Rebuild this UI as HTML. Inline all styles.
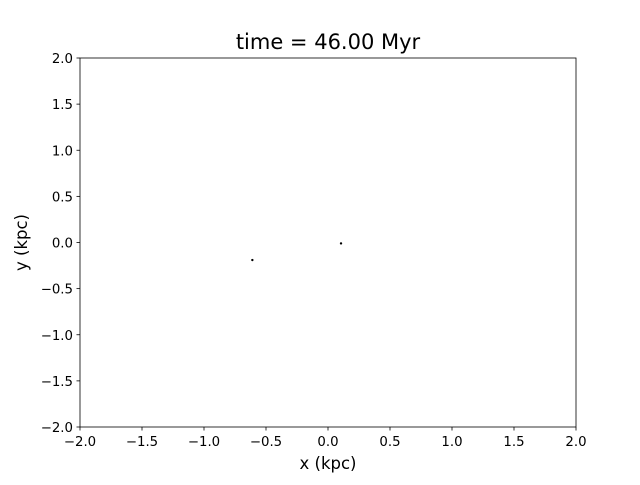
<!DOCTYPE html>
<html><head><meta charset="utf-8"><style>
body{margin:0;background:#fff;}
svg text{font-family:"DejaVu Sans","Liberation Sans",sans-serif;}
</style></head><body>
<svg width="640" height="480" viewBox="0 0 640 480" xmlns="http://www.w3.org/2000/svg">
<rect x="0" y="0" width="640" height="480" fill="#fff"/>
<g id="plot"></g>
</svg>
<script>
const xTicks=[-2.0,-1.5,-1.0,-0.5,0.0,0.5,1.0,1.5,2.0];
const yTicks=[-2.0,-1.5,-1.0,-0.5,0.0,0.5,1.0,1.5,2.0];
const pointsX=[-0.61,0.105];
const pointsY=[-0.19,-0.01];
const L=80,R=576,T=58,B=427;
const sx=v=>L+(v+2)/4*(R-L);
const sy=v=>B-(v+2)/4*(B-T);
const g=document.getElementById('plot');
const NS='http://www.w3.org/2000/svg';
function mk(tag,attrs,text){const e=document.createElementNS(NS,tag);for(const k in attrs)e.setAttribute(k,attrs[k]);if(text!==undefined)e.textContent=text;g.appendChild(e);return e;}
const fmt=v=>(v<0?'\u2212':'')+Math.abs(v).toFixed(1);
xTicks.forEach(v=>{
 const t=mk('line',{x1:sx(v),x2:sx(v),y1:B,y2:B+3.5,stroke:'#000','stroke-width':0.8});
 
 
 const l=mk('text',{x:sx(v),y:B+19,'font-size':13.3,'text-anchor':'middle'},fmt(v));
 
 
});
yTicks.forEach(v=>{
 const t=mk('line',{x1:L-3.5,x2:L,y1:sy(v),y2:sy(v),stroke:'#000','stroke-width':0.8});
 
 
 const l=mk('text',{x:L-7,y:sy(v)+5,'font-size':13.3,'text-anchor':'end'},fmt(v));
 
 
});
pointsX.forEach((x,i)=>{
 const c=mk('circle',{cx:sx(x),cy:sy(pointsY[i]),r:1.2,fill:'#000'});
 
 
});
const f=mk('rect',{x:L,y:T,width:R-L,height:B-T,fill:'none',stroke:'#000','stroke-width':0.8});


const tt=mk('text',{x:(L+R)/2,y:49,'font-size':21,'text-anchor':'middle'},'time = 46.00 Myr');


const xl=mk('text',{x:(L+R)/2,y:469,'font-size':16.5,'text-anchor':'middle'},'x (kpc)');


const yl=mk('text',{x:0,y:0,'font-size':16.5,'text-anchor':'middle',transform:`translate(27,${(T+B)/2}) rotate(-90)`},'y (kpc)');


</script>
</body></html>
